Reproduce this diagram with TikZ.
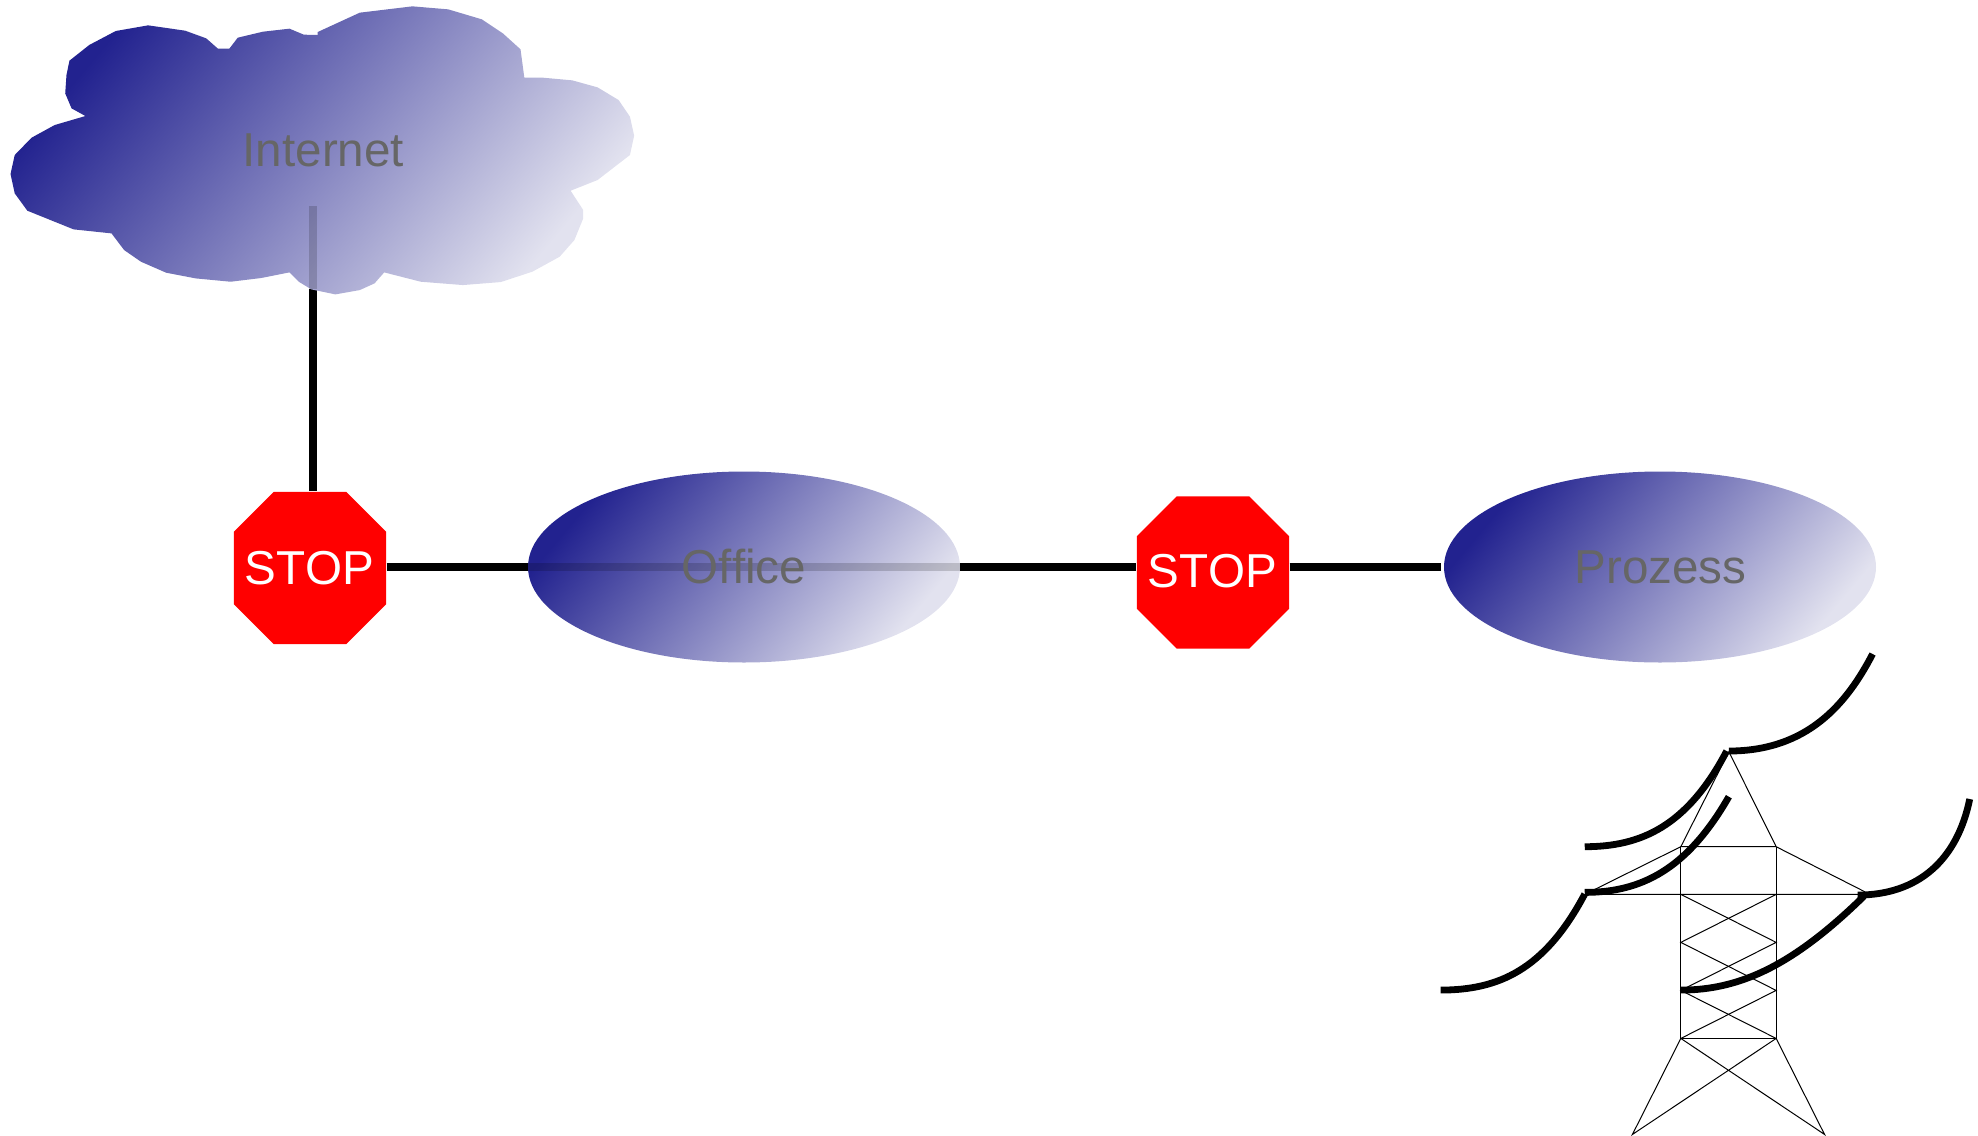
\documentclass[tikz,border=0pt]{standalone}
\usepackage{fontspec}
\setmainfont[Kerning=Off,Ligatures=NoCommon]{Liberation Sans}
\usetikzlibrary{shapes.geometric}
\definecolor{navy}{HTML}{22228F}
\definecolor{pale}{HTML}{E2E2EF}
\definecolor{mid}{HTML}{8282C0}
\definecolor{textgray}{HTML}{666666}
\tikzset{
  gradfill/.style={shading=axis,left color=navy,middle color=mid,right color=pale,shading angle=50},
  blob/.style={ellipse,shade,gradfill,minimum width=216pt,minimum height=95.5pt,inner sep=0pt},
  stopsign/.style={rectangle,draw=none,minimum width=76.2pt,minimum height=76.2pt,inner sep=0pt,
    path picture={\fill[red,shift={(path picture bounding box.center)}] (-38.1pt,-18.1pt)--(-18.1pt,-38.1pt)--(18.1pt,-38.1pt)--(38.1pt,-18.1pt)--(38.1pt,18.1pt)--(18.1pt,38.1pt)--(-18.1pt,38.1pt)--(-38.1pt,18.1pt)--cycle;}},
  label/.style={anchor=base,inner sep=0pt,text=textgray,font=\fontsize{23.8}{28}\selectfont},
  stoplabel/.style={label,text=white},
  linkline/.style={line width=3.8pt,black},
  seen/.style={line width=3.8pt,black,opacity=0.17},
  wire/.style={line width=3.4pt,black},
  mast/.style={line width=0.5pt,black}
}
\begin{document}
\begin{tikzpicture}[x=0.5pt,y=-0.5pt]
\useasboundingbox (0,0) rectangle (1978,1136);
\coordinate (cloudend) at (313,206);
\coordinate (cloudedge) at (313,289);
\node[stopsign] (stopa) at (310,568) {};
\node[stopsign] (stopb) at (1213,572.5) {};
\coordinate (oc) at (744,567);
\coordinate (pc) at (1660,567);
\node[blob] (office) at (oc) {};
\node[blob] (prozess) at (pc) {};
\draw[linkline] (cloudedge) -- (cloudedge |- stopa.north);
\draw[linkline] (stopa.east |- oc) -- (office.west);
\draw[linkline] (office.east) -- (stopb.west |- oc);
\draw[linkline] (stopb.east |- oc) -- ([xshift=-1.5pt]prozess.west);
\draw[seen] (office.west) -- (office.east);
\node[label] (officetxt) at (744,583) {Office};
\node[label] (prozesstxt) at (1660.5,583) {Prozess};
\node[stoplabel] (stopatxt) at (309.5,584) {STOP};
\node[stoplabel] (stopbtxt) at (1212.5,587.5) {STOP};
\begin{scope}[x=0.2104pt,y=-0.1667pt]
\shade[gradfill]
 (165,182)--(212,135)--(275,93)--(352,76)--(440,92)--(490,115)--(518,146)--(545,146)--(565,113)--(625,95)--(688,86)--(722,104)--(755,105)--(755,96)--(855,38)--(980,19)--(1065,28)--(1145,58)--(1195,100)--(1237,148)--(1246,233)--(1290,233)--(1360,241)--(1420,262)--(1470,300)--(1497,350)--(1507,407)--(1497,465)--(1420,540)--(1356,572)--(1386,630)--(1386,655)--(1365,720)--(1330,770)--(1265,815)--(1190,846)--(1100,855)--(1000,845)--(913,817)--(890,850)--(855,870)--(797,883)--(740,868)--(710,845)--(688,817)--(620,834)--(548,845)--(465,835)--(395,818)--(335,785)--(295,750)--(265,700)--(175,688)--(65,632)--(35,580)--(25,522)--(35,465)--(75,413)--(130,375)--(203,348)--(170,325)--(155,280)--(158,225)--cycle;
\end{scope}
\node[label] (cloudtxt) at (323.4,166) {Internet};
\draw[seen] (cloudedge) -- (cloudend);
\begin{scope}[shift={(1420,640)},x=0.1779pt,y=-0.1667pt]
\coordinate (ap) at (868,335);
\coordinate (tl) at (733,620); \coordinate (tr) at (1001,620);
\coordinate (al) at (465,763); \coordinate (ar) at (1250,763);
\coordinate (bl) at (733,1195); \coordinate (br) at (1001,1195);
\coordinate (fl) at (597,1483); \coordinate (fr) at (1137,1483);
\draw[mast] (tl)--(ap)--(tr)--(1250,755);
\draw[mast] (tr)--(tl)--(497,745)--(al)--(ar);
\draw[mast] (tl)--(bl)--(br)--(tr);
\draw[mast] (733,763)--(1001,907)--(733,1051)--(1001,1195);
\draw[mast] (1001,763)--(733,907)--(1001,1051)--(733,1195);
\draw[mast] (bl)--(fl)--(br)--(fr)--(bl);
\draw[wire] (868,333) .. controls (1090,333) and (1200,190) .. (1272,42);
\draw[wire] (862,333) .. controls (750,560) and (620,620) .. (463,620);
\draw[wire] (868,470) .. controls (750,690) and (620,757) .. (463,757);
\draw[wire] (463,762) .. controls (350,990) and (220,1050) .. (58,1050);
\draw[wire] (1545,477) .. controls (1510,660) and (1400,765) .. (1230,765);
\draw[wire] (1248,768) .. controls (1050,975) and (900,1050) .. (733,1050);
\end{scope}
\end{tikzpicture}
\end{document}
